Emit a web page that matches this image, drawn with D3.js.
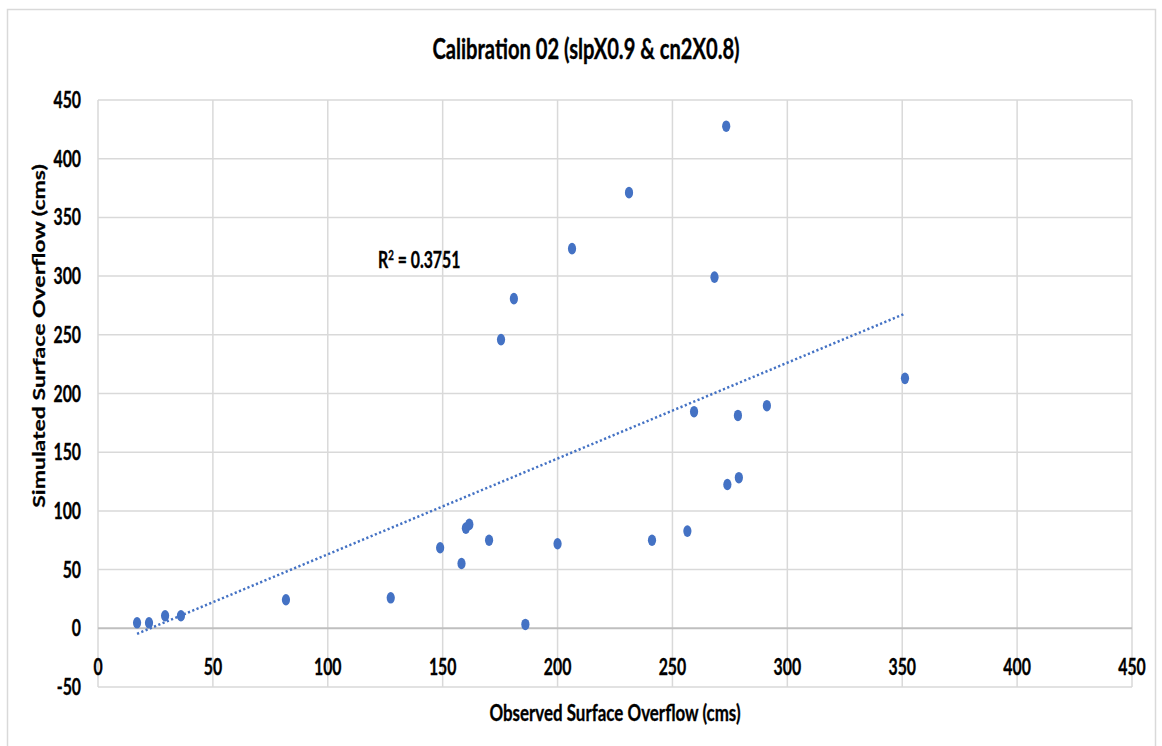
<!DOCTYPE html>
<html>
<head>
<meta charset="utf-8">
<script src="https://cdn.jsdelivr.net/npm/d3@7"></script>
<style>
  body { margin: 0; background: #fff; }
  text { font-family: Lato, "Open Sans", sans-serif; font-weight: bold; fill: #000; stroke: #000; stroke-width: 0.35px; }
</style>
</head>
<body>
<svg width="1162" height="746"></svg>
<script>
// Data
var observed  = [17, 22.2, 29.2, 36.1, 81.8, 127.4, 148.9, 158.2, 160.1, 161.6, 170.2, 175.4, 181, 186,
                 200, 206.3, 231.1, 241.1, 256.5, 259.4, 268.3, 273.4, 273.9, 278.5, 278.9, 291.1, 351.2];
var simulated = [4.7, 4.7, 10.7, 10.7, 24.3, 26, 68.6, 55.2, 85.3, 88.5, 75, 245.9, 280.8, 3.3,
                 72, 323.4, 371.1, 75, 82.8, 184.5, 299.1, 427.7, 122.5, 181.3, 128.3, 189.6, 212.9];
var xTicks = [0, 50, 100, 150, 200, 250, 300, 350, 400, 450];
var yTicks = [-50, 0, 50, 100, 150, 200, 250, 300, 350, 400, 450];
var trendX = [17, 351.2];     // dotted linear trendline ends
var trendY = [-4.7, 268];
var rSquared = "0.3751";

var blue = "#4472C4";
var squeeze = 0.72;   // the picture is narrowed horizontally

var svg = d3.select("svg");

// chart frame
svg.append("rect")
    .attr("x", 7.5).attr("y", 9.5)
    .attr("width", 1148).attr("height", 760)
    .attr("fill", "none").attr("stroke", "#d9d9d9").attr("stroke-width", 1.5);

var x = d3.scaleLinear().domain([0, 450]).range([98, 1132]);
var y = d3.scaleLinear().domain([-50, 450]).range([687, 100]);

// gridlines
svg.append("g").selectAll("line").data(xTicks).enter().append("line")
    .attr("x1", function(d) { return x(d); }).attr("x2", function(d) { return x(d); })
    .attr("y1", y(450)).attr("y2", y(-50))
    .attr("stroke", "#d9d9d9").attr("stroke-width", 1.5);

svg.append("g").selectAll("line").data(yTicks).enter().append("line")
    .attr("x1", x(0)).attr("x2", x(450))
    .attr("y1", function(d) { return y(d); }).attr("y2", function(d) { return y(d); })
    .attr("stroke", function(d) { return d === 0 ? "#bfbfbf" : "#d9d9d9"; })
    .attr("stroke-width", function(d) { return d === 0 ? 2 : 1.5; });

function label(px, py, str, size, anchor, rotate) {
    return svg.append("text")
        .attr("transform", "translate(" + px + "," + py + ") scale(" + squeeze + ",1)" + (rotate ? " rotate(-90)" : ""))
        .attr("text-anchor", anchor)
        .style("font-size", size + "px")
        .text(str);
}

// tick labels
yTicks.forEach(function(d) { label(81, y(d) + 8, d, 22, "end"); });
xTicks.forEach(function(d) { label(x(d), 675, d, 22, "middle"); });

// titles
label(586, 59, "Calibration 02 (slpX0.9 & cn2X0.8)", 28, "middle");
label(615, 721, "Observed Surface Overflow (cms)", 23.5, "middle");
label(45, 336, "Simulated Surface Overflow (cms)", 23, "middle", true);

// trendline
svg.append("line")
    .attr("x1", x(trendX[0])).attr("y1", y(trendY[0]))
    .attr("x2", x(trendX[1])).attr("y2", y(trendY[1]))
    .attr("stroke", blue).attr("stroke-width", 2.5)
    .attr("stroke-dasharray", "2.2 2.4");

// points
svg.append("g").selectAll("ellipse").data(observed).enter().append("ellipse")
    .attr("cx", function(d) { return x(d); })
    .attr("cy", function(d, i) { return y(simulated[i]); })
    .attr("rx", 4.1).attr("ry", 5.8)
    .attr("fill", blue);

// R squared label
var r2 = label(378, 268, "R", 22, "start");
r2.append("tspan").attr("dy", -8).style("font-size", "13.5px").text("2");
r2.append("tspan").attr("dy", 8).text(" = " + rSquared);
</script>
</body>
</html>
